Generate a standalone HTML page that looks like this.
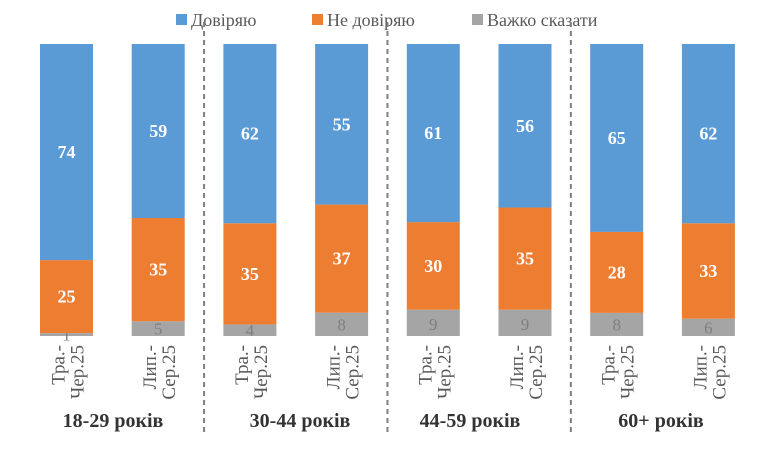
<!DOCTYPE html>
<html><head><meta charset="utf-8"><style>
body{margin:0;background:#fff;}
svg{display:block;font-family:"Liberation Serif",serif;}
</style></head><body>
<svg id="chart" width="780" height="467" viewBox="0 0 780 467">
<g id="legend">
 <g><rect x="176" y="14" width="11" height="11" fill="#5b9bd5"/><text x="191" y="26" font-size="18" fill="#595959">Довіряю</text></g>
 <g><rect x="312" y="14" width="11" height="11" fill="#ed7d31"/><text x="327" y="26" font-size="18" fill="#595959">Не довіряю</text></g>
 <g><rect x="472" y="14" width="11" height="11" fill="#a5a5a5"/><text x="487" y="26" font-size="18" fill="#595959">Важко сказати</text></g>
</g>
<g id="bars"></g>
<g id="labels"></g>
</svg>
<script>
const groups = ["18-29 років","30-44 років","44-59 років","60+ років"];
const periodA = ["Тра.-","Чер.25"];
const periodB = ["Лип.-","Сер.25"];
const trust = [74,59,62,55,61,56,65,62];
const distrust = [25,35,35,37,30,35,28,33];
const hard = [1,5,4,8,9,9,8,6];

const NS="http://www.w3.org/2000/svg";
const barsG=document.getElementById('bars'), labG=document.getElementById('labels');
const top0=44, bottom0=336, barW=53;
const barX=i=>40+i*91.7;
function mk(tag,attrs,parent){const e=document.createElementNS(NS,tag);for(const k in attrs)e.setAttribute(k,attrs[k]);parent.appendChild(e);return e;}
const series=[{v:hard,c:"#a5a5a5",t:"#7f7f7f",n:"hard"},{v:distrust,c:"#ed7d31",t:"#fff",n:"distrust"},{v:trust,c:"#5b9bd5",t:"#fff",n:"trust"}];
for(let i=0;i<trust.length;i++){
  const tot=trust[i]+distrust[i]+hard[i];
  const sc=(bottom0-top0)/tot;
  let y=bottom0;
  const x=barX(i);
  for(const s of series){
    const h=s.v[i]*sc;
    const r=mk('rect',{x:x,y:y-h,width:barW,height:h,fill:s.c},barsG);
    
    
    const ty = s.n==="hard" ? Math.max(y-h/2+6, bottom0-6+ (h<6?6:0)) : y-h/2+6;
    const t=mk('text',{x:x+barW/2,y:ty,'text-anchor':'middle','font-size':s.n==="hard"?17:18,'font-weight':s.n==="hard"?'normal':'bold',fill:s.t},barsG);
    t.textContent=s.v[i];
    
    
    y-=h;
  }
  const lines=i%2===0?periodA:periodB;
  const cx=x+barW/2;
  lines.forEach((ln,k)=>{
    const tx=cx-2+k*19;
    const t=mk('text',{x:tx,y:345,'text-anchor':'end','font-size':19,fill:'#595959',transform:`rotate(-90 ${tx} 345)`},labG);
    t.textContent=ln;
    
    
  });
}
const groupCx=[113,300,470,661];
groups.forEach((g,j)=>{
  const t=mk('text',{x:groupCx[j],y:427,'text-anchor':'middle','font-size':20,'font-weight':'bold',fill:'#333'},labG);
  t.textContent=g;
  
  
  if(j>0){
    const lx=(barX(2*j-1)+barW+barX(2*j))/2;
    const l=mk('line',{x1:lx,y1:22,x2:lx,y2:436,stroke:'#7f7f7f','stroke-width':2,'stroke-dasharray':'5,4'},labG);
    
    
  }
});
</script>
</body></html>
